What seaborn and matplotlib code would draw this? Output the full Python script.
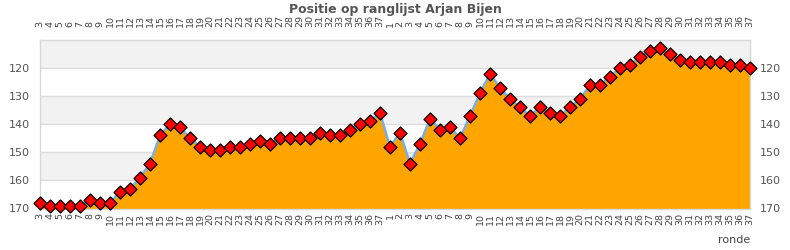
import matplotlib
matplotlib.use("Agg")
import matplotlib.pyplot as plt
import seaborn as sns
import pandas as pd
import numpy as np

rounds = [str(r) for r in range(3, 38)] + [str(r) for r in range(1, 38)]
positions = [168, 169, 169, 169, 169, 167, 168, 168, 164, 163,
             159, 154, 144, 140, 141, 145, 148, 149, 149, 148,
             148, 147, 146, 147, 145, 145, 145, 145, 143, 144,
             144, 142, 140, 139, 136,
             148, 143, 154, 147, 138, 142, 141, 145, 137, 129,
             122, 127, 131, 134, 137, 134, 136, 137, 134, 131,
             126, 126, 123, 120, 119, 116, 114, 113, 115, 117,
             118, 118, 118, 118, 119, 119, 120]
title = "Positie op ranglijst Arjan Bijen"
y_ticks = [120, 130, 140, 150, 160, 170]

df = pd.DataFrame({"idx": np.arange(len(rounds)), "ronde": rounds, "positie": positions})

sns.set_style("white")
plt.rcParams["font.family"] = ["DejaVu Sans"]

fig = plt.figure(figsize=(7.9, 2.5), dpi=100)
ax = fig.add_axes([40 / 790, 1 - 208.5 / 250, 710 / 790, 168.5 / 250])

ymin, ymax = 110, 170
for lo in (110, 130, 150):
    ax.axhspan(lo, lo + 10, color="#f2f2f2", zorder=0, lw=0)
for yt in y_ticks:
    ax.axhline(yt, color="#dcdcdc", lw=1, zorder=0.5)

ax.fill_between(df["idx"], df["positie"], ymax, color="#ffa500", lw=0, zorder=1)
sns.lineplot(data=df, x="idx", y="positie", ax=ax, color="#7aaee0", lw=1.8, zorder=2)
sns.scatterplot(data=df, x="idx", y="positie", ax=ax, marker="D", s=44,
                color="#ff0000", edgecolor="black", linewidth=0.9, zorder=3, clip_on=False)

ax.set_xlim(0, len(rounds) - 1)
ax.set_ylim(ymax, ymin)
ax.set_xticks(df["idx"])
ax.set_xticklabels(rounds, rotation=90, fontsize=6.8, color="#444444")
ax.set_yticks(y_ticks)
ax.set_yticklabels([str(v) for v in y_ticks], fontsize=8, color="#555555")
ax.tick_params(axis="x", length=0, pad=3)
ax.tick_params(axis="y", length=0, pad=7, labelleft=True, labelright=True)
ax.set_xlabel("")
ax.set_ylabel("")
for s in ax.spines.values():
    s.set_color("#d8d8d8")
    s.set_linewidth(1)

ax2 = ax.twiny()
ax2.set_xlim(ax.get_xlim())
ax2.set_xticks(df["idx"])
ax2.set_xticklabels(rounds, rotation=90, fontsize=6.8, color="#444444")
ax2.tick_params(axis="x", length=0, pad=9)
for s in ax2.spines.values():
    s.set_visible(False)

fig.text(395 / 790, 1 - 10 / 250, title, ha="center", va="center",
         fontsize=9, fontweight="bold", color="#555555")
fig.text(750 / 790, 1 - 240 / 250, "ronde", ha="right", va="center",
         fontsize=8, color="#444444")

fig.savefig("out.png", dpi=100)
